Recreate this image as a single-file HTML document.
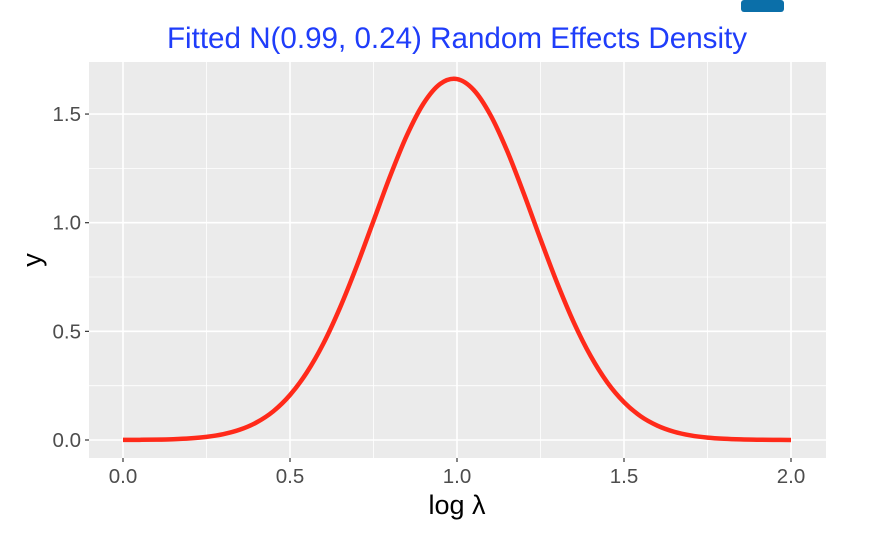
<!DOCTYPE html>
<html><head><meta charset="utf-8"><style>
body{margin:0;background:#fff;}
svg{display:block;font-family:"Liberation Sans",Arial,sans-serif;}
</style></head><body>
<svg id="chart" width="872" height="534">
<rect x="741" y="0" width="43" height="12" rx="3" fill="#0b6fa9"/>
<text x="457" y="48" text-anchor="middle" font-size="29.6" fill="#1f3dfa">Fitted N(0.99, 0.24) Random Effects Density</text>
<rect x="89" y="62" width="737" height="396" fill="#ebebeb"/>
<g id="grid"></g>
<g id="series"></g>
<g id="axes"></g>
<text x="457" y="514" text-anchor="middle" font-size="27" fill="#000">log λ</text>
<text transform="translate(41,260) rotate(-90)" text-anchor="middle" font-size="27" fill="#000">y</text>
</svg>
<script>
const xValues=[0,0.05,0.1,0.15,0.2,0.25,0.3,0.35,0.4,0.45,0.5,0.55,0.6,0.65,0.7,0.75,0.8,0.85,0.9,0.95,1.0,1.05,1.1,1.15,1.2,1.25,1.3,1.35,1.4,1.45,1.5,1.55,1.6,1.65,1.7,1.75,1.8,1.85,1.9,1.95,2.0];
const yValues=[0.0003,0.0008,0.0017,0.0036,0.0074,0.0144,0.0267,0.0475,0.081,0.132,0.207,0.310,0.444,0.610,0.801,1.008,1.215,1.402,1.549,1.639,1.661,1.611,1.496,1.331,1.134,0.924,0.722,0.540,0.387,0.265,0.174,0.109,0.066,0.038,0.021,0.011,0.0056,0.0027,0.0013,0.0006,0.0002];
const xTicks=["0.0","0.5","1.0","1.5","2.0"];
const yTicks=["0.0","0.5","1.0","1.5"];
const xMinor=[0.25,0.75,1.25,1.75];
const yMinor=[0.25,0.75,1.25];
const NS="http://www.w3.org/2000/svg";
const X=v=>123+v*334;
const Y=v=>440-v*217.3;
const g=document.getElementById('grid'),s=document.getElementById('series'),a=document.getElementById('axes');
function mk(tag,attrs,parent){const e=document.createElementNS(NS,tag);for(const k in attrs)e.setAttribute(k,attrs[k]);parent.appendChild(e);return e;}
xMinor.forEach(v=>{const l=mk('line',{x1:X(v),x2:X(v),y1:62,y2:458,stroke:'#fff','stroke-width':0.8},g);

});
yMinor.forEach(v=>{const l=mk('line',{x1:89,x2:826,y1:Y(v),y2:Y(v),stroke:'#fff','stroke-width':0.8},g);

});
xTicks.forEach(t=>{const v=parseFloat(t);
const l=mk('line',{x1:X(v),x2:X(v),y1:62,y2:458,stroke:'#fff','stroke-width':1.6},g);


const tk=mk('line',{x1:X(v),x2:X(v),y1:458,y2:462,stroke:'#333','stroke-width':1.2},a);


const tx=mk('text',{x:X(v),y:483,'text-anchor':'middle','font-size':20.5,fill:'#4d4d4d'},a);tx.textContent=t;

});
yTicks.forEach(t=>{const v=parseFloat(t);
const l=mk('line',{x1:89,x2:826,y1:Y(v),y2:Y(v),stroke:'#fff','stroke-width':1.6},g);


const tk=mk('line',{x1:85,x2:89,y1:Y(v),y2:Y(v),stroke:'#333','stroke-width':1.2},a);


const tx=mk('text',{x:81,y:Y(v)+7,'text-anchor':'end','font-size':20.5,fill:'#4d4d4d'},a);tx.textContent=t;

});
const pts=xValues.map((x,i)=>[X(x),Y(yValues[i])]);
let d='M'+pts[0][0]+','+pts[0][1];
for(let i=0;i<pts.length-1;i++){const p0=pts[Math.max(0,i-1)],p1=pts[i],p2=pts[i+1],p3=pts[Math.min(pts.length-1,i+2)];
d+=' C'+(p1[0]+(p2[0]-p0[0])/6)+','+(p1[1]+(p2[1]-p0[1])/6)+' '+(p2[0]-(p3[0]-p1[0])/6)+','+(p2[1]-(p3[1]-p1[1])/6)+' '+p2[0]+','+p2[1];}
const path=mk('path',{d:d,fill:'none',stroke:'#ff2a1a','stroke-width':4.5,'stroke-linecap':'butt'},s);


</script>
</body></html>
